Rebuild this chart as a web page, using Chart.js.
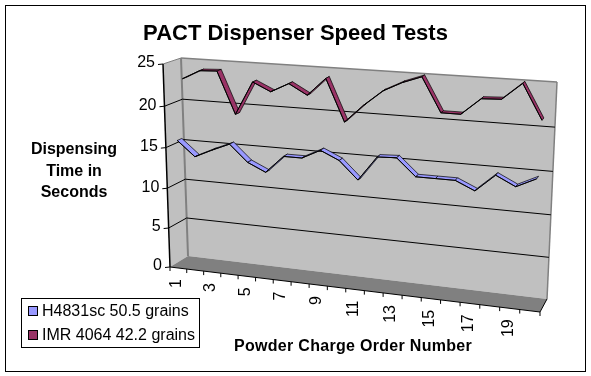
<!DOCTYPE html>
<html lang="en">
  <head>
    <meta charset="UTF-8" />
    <title>PACT Dispenser Speed Tests</title>
  </head>
  <style>
    * {
      margin: 0;
      padding: 0;
    }
    body {
      background: white;
    }
    canvas {
      display: block;
    }
  </style>
  <body>
    <canvas id="myChart" width="591" height="376"></canvas>

    <script src="https://cdn.jsdelivr.net/npm/chart.js"></script>

    <script>
      // data block
      const categories = ["1", "2", "3", "4", "5", "6", "7", "8", "9", "10",
        "11", "12", "13", "14", "15", "16", "17", "18", "19", "20"];
      const h4831 = [15.8, 14.0, 15.0, 15.9, 13.9, 12.9, 15.0, 15.0, 16.1, 15.1,
        13.0, 15.9, 16.0, 14.0, 14.0, 14.0, 13.0, 15.0, 13.9, 15.0];
      const imr4064 = [22.9, 24.0, 24.1, 19.1, 23.1, 22.1, 23.2, 22.0, 24.1, 19.2,
        21.3, 23.1, 24.2, 25.0, 21.1, 21.1, 23.0, 23.1, 25.0, 21.1];
      const seriesNames = ["H4831sc 50.5 grains", "IMR 4064 42.2 grains"];
      const yTicks = [0, 5, 10, 15, 20, 25];

      const FONT = '"Liberation Sans", Arial, sans-serif';

      // the box the excel 3d chart sits in, pixel corners
      const front = { bl: [170, 267], br: [540, 312], tl: [163, 64], tr: [550, 90] };
      const back = { bl: [188, 256], br: [547, 299], tl: [181, 58], tr: [557, 82] };

      // u along the categories, w up the values, d from front (0) to back (1)
      function project(u, w, d) {
        const uu = u - 0.1 * u * (1 - u);
        const ww = w - 0.05 * w * (1 - w);
        const corner = (k, i) => front[k][i] + (back[k][i] - front[k][i]) * d;
        const at = (i) => {
          const b = corner("bl", i) + (corner("br", i) - corner("bl", i)) * uu;
          const t = corner("tl", i) + (corner("tr", i) - corner("tl", i)) * uu;
          return b + (t - b) * ww;
        };
        return { x: at(0), y: at(1) };
      }

      function poly(ctx, pts, fill, stroke, lineWidth) {
        ctx.beginPath();
        pts.forEach((p, i) => (i ? ctx.lineTo(p.x, p.y) : ctx.moveTo(p.x, p.y)));
        ctx.closePath();
        if (fill) {
          ctx.fillStyle = fill;
          ctx.fill();
        }
        if (stroke) {
          ctx.strokeStyle = stroke;
          ctx.lineWidth = lineWidth || 1;
          ctx.stroke();
        }
      }

      function line(ctx, a, b, color, width) {
        ctx.beginPath();
        ctx.moveTo(a.x, a.y);
        ctx.lineTo(b.x, b.y);
        ctx.strokeStyle = color;
        ctx.lineWidth = width || 1;
        ctx.stroke();
      }

      // moves the line points from scale pixels onto the sloped ribbons
      const ribbons = {
        id: "ribbons",
        afterDatasetsUpdate(chart) {
          const { x: xs, y: ys } = chart.scales;
          chart.data.datasets.forEach((ds, n) => {
            chart.getDatasetMeta(n).data.forEach((pt) => {
              const u = (pt.x - xs.left) / xs.width;
              const w = (ys.bottom - pt.y) / ys.height;
              const f = project(u, w, ds.depth - 0.13);
              pt.back = project(u, w, ds.depth + 0.13);
              pt.x = f.x;
              pt.y = f.y;
            });
          });
        },
        beforeDatasetDraw(chart, args) {
          const ctx = chart.ctx;
          const ds = chart.data.datasets[args.index];
          const pts = args.meta.data;
          ctx.save();
          for (let i = 0; i < pts.length - 1; i++) {
            poly(ctx, [pts[i], pts[i + 1], pts[i + 1].back, pts[i].back], ds.backgroundColor, "#000", 0.7);
          }
          ctx.restore();
        }
      };

      // walls, floor, grid, axes and all the text
      const box = {
        id: "box",
        beforeDatasetsDraw(chart) {
          const ctx = chart.ctx;
          const { x: xs, y: ys } = chart.scales;
          ctx.save();

          ctx.strokeStyle = "#000";
          ctx.lineWidth = 1;
          ctx.strokeRect(5.5, 5.5, 580, 366);

          const P = (u, w, d) => project(u, w, d);
          poly(ctx, [P(0, 0, 1), P(1, 0, 1), P(1, 1, 1), P(0, 1, 1)], "#c0c0c0");
          poly(ctx, [P(0, 0, 0), P(0, 0, 1), P(0, 1, 1), P(0, 1, 0)], "#c0c0c0");
          poly(ctx, [P(0, 0, 0), P(1, 0, 0), P(1, 0, 1), P(0, 0, 1)], "#808080");

          line(ctx, P(0, 1, 0), P(0, 1, 1), "#808080");
          line(ctx, P(0, 1, 1), P(1, 1, 1), "#808080", 1.5);
          line(ctx, P(1, 1, 1), P(1, 0, 1), "#808080", 1.5);
          line(ctx, P(0, 0, 1), P(0, 1, 1), "#808080", 2);

          ctx.font = "16px " + FONT;
          ctx.fillStyle = "#000";
          ctx.textAlign = "right";
          ctx.textBaseline = "middle";
          yTicks.forEach((t) => {
            const w = (ys.bottom - ys.getPixelForValue(t)) / ys.height;
            const a = P(0, w, 0);
            if (t > 0 && t < 25) {
              line(ctx, a, P(0, w, 1), "#000");
              line(ctx, P(0, w, 1), P(1, w, 1), "#000");
            }
            line(ctx, a, { x: a.x - 5, y: a.y + 0.5 }, "#000");
            ctx.fillText(String(t), a.x - 8, a.y - 1);
          });
          line(ctx, P(0, 0, 0), P(0, 1, 0), "#000", 1.5);
          line(ctx, P(0, 0, 0), P(1, 0, 0), "#000");
          line(ctx, P(1, 0, 0), P(1, 0, 1), "#000");

          categories.forEach((c, i) => {
            const mid = (xs.getPixelForValue(i) - xs.left) / xs.width;
            const half = 0.5 / categories.length;
            const a = P(mid - half, 0, 0);
            line(ctx, a, { x: a.x, y: a.y + 4 }, "#000");
            if (i === categories.length - 1) {
              const e = P(1, 0, 0);
              line(ctx, e, { x: e.x, y: e.y + 4 }, "#000");
            }
            if (i % 2 === 0) {
              const p = P(mid, 0, 0);
              ctx.save();
              ctx.translate(p.x - 1.5, p.y + 11);
              ctx.rotate(-Math.PI / 2);
              ctx.textAlign = "right";
              ctx.fillText(c, 0, 0);
              ctx.restore();
            }
          });

          ctx.restore();
        },
        afterDraw(chart) {
          const ctx = chart.ctx;
          ctx.save();
          ctx.fillStyle = "#000";
          ctx.textBaseline = "middle";
          ctx.textAlign = "center";
          ctx.font = "bold 16px " + FONT;
          ["Dispensing", "Time in", "Seconds"].forEach((s, i) => {
            ctx.fillText(s, 74, 150 + i * 21.5);
          });
          ctx.letterSpacing = "0.3px";
          ctx.fillText("Powder Charge Order Number", 353, 347);
          ctx.letterSpacing = "0px";

          // legend
          ctx.strokeStyle = "#000";
          ctx.lineWidth = 1;
          ctx.strokeRect(21.5, 298.5, 178, 49);
          ctx.textAlign = "left";
          ctx.font = "16px " + FONT;
          chart.data.datasets.forEach((ds, i) => {
            const y = 306.5 + i * 24;
            ctx.fillStyle = ds.backgroundColor;
            ctx.fillRect(28.5, y, 9, 9);
            ctx.strokeRect(28.5, y, 9, 9);
            ctx.fillStyle = "#000";
            ctx.fillText(ds.label, 42, y + 5);
          });
          ctx.restore();
        }
      };

      // config block
      const config = {
        type: "line",
        data: {
          labels: categories,
          datasets: [
            { label: seriesNames[0], data: h4831, depth: 0.3, backgroundColor: "#9999ff" },
            { label: seriesNames[1], data: imr4064, depth: 0.7, backgroundColor: "#993366" }
          ]
        },
        options: {
          responsive: false,
          animation: false,
          events: [],
          clip: false,
          datasets: {
            line: { borderColor: "#000", borderWidth: 1, pointRadius: 0, tension: 0 }
          },
          layout: { padding: 0 },
          scales: {
            x: { display: false, offset: true },
            y: { display: false, min: 0, max: 25, ticks: { stepSize: 5 } }
          },
          plugins: {
            legend: { display: false },
            tooltip: { enabled: false },
            title: {
              display: true,
              text: "PACT Dispenser Speed Tests",
              color: "#000",
              font: { family: FONT, size: 22, weight: "bold" },
              padding: { top: 21, bottom: 10 }
            }
          }
        },
        plugins: [box, ribbons]
      };

      // init render block
      const ctx = document.getElementById("myChart");
      const myChart = new Chart(ctx, config);
    </script>
  </body>
</html>
